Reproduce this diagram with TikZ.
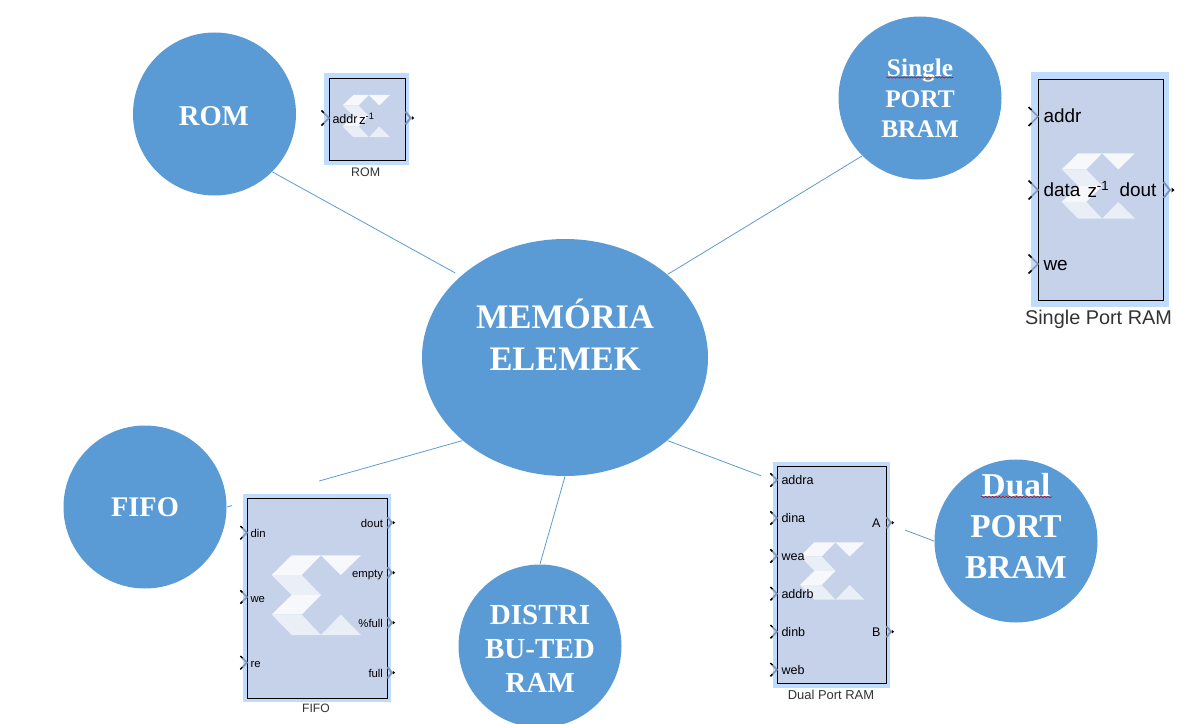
\documentclass[tikz,border=0pt]{standalone}
\usepackage{fontspec}
\setmainfont{Liberation Serif}
\setsansfont{Liberation Sans}
\usetikzlibrary{shapes.geometric,decorations.pathmorphing}

\definecolor{bubbleblue}{HTML}{5B9BD5}
\definecolor{blockfill}{HTML}{C5D2E9}
\definecolor{blockband}{HTML}{BFDBFE}
\definecolor{portgray}{HTML}{8497BA}
\definecolor{logowhite}{HTML}{F6F8FC}
\definecolor{logolight}{HTML}{E9EEF7}

\tikzset{every picture/.style={line width=0.75pt},
  bubble/.style={circle,fill=bubbleblue,minimum size=122.25pt,inner sep=0pt},
  bubbletext/.style={inner sep=0pt,align=center,text=white,font=\bfseries},
  spoke/.style={color=bubbleblue,line width=0.6pt},
  redwave/.style={color=red!80!black,line width=0.4pt,decorate,decoration={snake,amplitude=0.5pt,segment length=2.6pt}},
  blockframe/.style={draw=black,fill=blockfill,line width=0.7pt},
  portlabel/.style={inner sep=0pt,text height=1.5ex,text depth=0pt},
  smalltext/.style={font=\sffamily\fontsize{8.5}{10}\selectfont},
  duallabel/.style={font=\sffamily\fontsize{9.4}{11}\selectfont},
  biglabel/.style={font=\sffamily\fontsize{14.2}{16}\selectfont},
  inport/.pic={
    \draw [color=portgray,line width=1.3pt] (-6.5,-6.5) -- (0,0) -- (-6.5,6.5) ;
    \draw [color=black,line width=1.1pt] (-9.5,-9.5) -- (-6.5,-6.5) (-9.5,9.5) -- (-6.5,6.5) ;
  },
  outport/.pic={
    \draw [color=portgray,line width=1.5pt] (0.5,-8) -- (7,0) -- (0.5,8) ;
    \fill [color=black] (8.5,-2.5) -- (11.5,0) -- (8.5,2.5) -- cycle ;
  },
  xlogo/.pic={
    \begin{scope}[yscale=-1]
    \fill [color=logowhite] (0,19.7) -- (20,0) -- (49.3,0) -- (30,19.7) -- cycle ;
    \fill [color=logolight] (0,19.7) -- (30,19.7) -- (49.3,39.7) -- (20,39.7) -- cycle ;
    \fill [color=logowhite] (20,39.7) -- (49.3,39.7) -- (30,59.3) -- (0,59.3) -- cycle ;
    \fill [color=logolight] (0,59.3) -- (30,59.3) -- (49.3,79.7) -- (20,79.7) -- cycle ;
    \fill [color=logowhite] (49.3,0) -- (89.3,0) -- (69,19.7) -- cycle ;
    \fill [color=logolight] (49.3,79.7) -- (69,59.3) -- (89.3,79.7) -- cycle ;
    \end{scope}
  }
}

\begin{document}
\begin{tikzpicture}[x=0.75pt,y=0.75pt,yscale=-1,xscale=1]
\useasboundingbox (0,0) rectangle (1189,724);

%Shape: Ellipse
\node [ellipse,fill=bubbleblue,minimum width=214.5pt,minimum height=177.75pt,inner sep=0pt] (memoria) at (565,357.5) {};
%Shape: Circle
\node [bubble] (rom) at (214.5,114) {};
\node [bubble] (single) at (920,98) {};
\node [bubble] (fifo) at (145,507) {};
\node [bubble] (distri) at (540,646) {};
\node [bubble] (dual) at (1016,541) {};

%Straight Lines
\draw [spoke,shorten >=4.5pt] (rom.-45) -- (memoria.142.5) ;
\draw [spoke] (single.225) -- (memoria.39.3) ;
\draw [spoke] (fifo.east) -- (memoria.219.6) ;
\draw [spoke] (memoria.south) -- (distri.north) ;
\draw [spoke] (memoria.-39.6) -- (dual.west) ;

%Shape: Rectangle, white margin of the pasted blocks
\fill [color=white] (232,470) rectangle (319,724) (319,486) rectangle (400,724) ;
\fill [color=white] (761,450) rectangle (905,724) ;

%Shape: Rectangle, ROM block
\fill [color=blockband] (324,73) rectangle (409,165) ;
\draw [blockframe] (329,78) rectangle (405,160) ;
\pic [scale=0.53] at (342.7,95) {xlogo} ;
\pic [scale=0.8] at (329,118) {inport} ;
\pic [scale=0.8] at (405,118) {outport} ;

%Shape: Rectangle, Single Port RAM block
\fill [color=blockband] (1031,72) rectangle (1169,307) ;
\draw [blockframe] (1038,79) rectangle (1163,300) ;
\pic [scale=0.82] at (1061.7,153.3) {xlogo} ;
\pic at (1038,116.5) {inport} ;
\pic at (1038,190) {inport} ;
\pic at (1038,264) {inport} ;
\pic at (1163,190) {outport} ;

%Shape: Rectangle, FIFO block
\fill [color=blockband] (243,494) rectangle (391,702) ;
\draw [blockframe] (247,498) rectangle (387,698) ;
\pic at (271.7,555.3) {xlogo} ;
\pic [scale=0.7] at (247,532.7) {inport} ;
\pic [scale=0.7] at (247,597) {inport} ;
\pic [scale=0.7] at (247,662.7) {inport} ;
\pic [scale=0.7] at (387,522.7) {outport} ;
\pic [scale=0.7] at (387,572.7) {outport} ;
\pic [scale=0.7] at (387,622.7) {outport} ;
\pic [scale=0.7] at (387,672.7) {outport} ;

%Shape: Rectangle, Dual Port RAM block
\fill [color=blockband] (773,462) rectangle (890,688) ;
\draw [blockframe] (777,466) rectangle (886,683) ;
\pic [scale=0.72] at (800,542.3) {xlogo} ;
\pic [scale=0.7] at (777,480) {inport} ;
\pic [scale=0.7] at (777,518) {inport} ;
\pic [scale=0.7] at (777,556) {inport} ;
\pic [scale=0.7] at (777,593.7) {inport} ;
\pic [scale=0.7] at (777,631.7) {inport} ;
\pic [scale=0.7] at (777,669.7) {inport} ;
\pic [scale=0.7] at (886,522.7) {outport} ;
\pic [scale=0.7] at (886,631.7) {outport} ;

% Text Node
\node [bubbletext,font=\bfseries\fontsize{25.8}{31.5}\selectfont] (memoriatext) at (565,335) {MEMÓRIA\\ELEMEK};
% Text Node
\node [bubbletext,font=\bfseries\fontsize{21.5}{26}\selectfont] (romtext) at (214,116) {ROM};
% Text Node
\node [bubbletext,font=\bfseries\fontsize{19}{23}\selectfont] (singletext) at (920,98.5) {Single\\PORT\\BRAM};
% Text Node
\node [bubbletext,font=\bfseries\fontsize{21.3}{26}\selectfont] (fifotext) at (145,507.5) {FIFO};
% Text Node
\node [bubbletext,font=\bfseries\fontsize{21.8}{25.5}\selectfont] (distritext) at (540,648.5) {DISTRI\\BU-TED\\RAM};
% Text Node
\node [bubbletext,font=\bfseries\fontsize{25}{31}\selectfont] (dualtext) at (1016,526) {Dual\\PORT\\BRAM};

%Curve Lines, spelling marks
\draw [redwave] (886,77.5) -- (953,77.5) ;
\draw [redwave] (981,497) -- (1052,497) ;

% Text Node, ROM
\node [portlabel,anchor=west,font=\sffamily\fontsize{9.4}{11}\selectfont] (romaddr) at (332,119) {addr};
\node [portlabel,anchor=west,font=\sffamily\fontsize{10}{11}\selectfont] (romz) at (358.5,120) {z\textsuperscript{-1}};
\node [inner sep=0pt,font=\sffamily\fontsize{9.3}{11}\selectfont,text=black!80] (romname) at (365.7,172) {ROM};

% Text Node, Single Port RAM
\node [portlabel,biglabel,anchor=west] (singleaddr) at (1043,117.5) {addr};
\node [portlabel,biglabel,anchor=west] (singledata) at (1043,191.5) {data};
\node [portlabel,biglabel,anchor=west] (singlewe) at (1043,265.5) {we};
\node [portlabel,biglabel,anchor=east] (singledout) at (1157,191.5) {dout};
\node [portlabel,biglabel,anchor=west] (singlez) at (1087,193) {z\textsuperscript{-1}};
\node [inner sep=0pt,font=\sffamily\fontsize{14.9}{17}\selectfont,text=black!80] (singlename) at (1098.5,319.5) {Single Port RAM};

% Text Node, FIFO
\node [portlabel,smalltext,anchor=west] (fifodin) at (250,533) {din};
\node [portlabel,smalltext,anchor=west] (fifowe) at (250,598) {we};
\node [portlabel,smalltext,anchor=west] (fifore) at (250,663) {re};
\node [portlabel,smalltext,anchor=east] (fifodout) at (383.5,523) {dout};
\node [portlabel,smalltext,anchor=east] (fifoempty) at (383.5,573) {empty};
\node [portlabel,smalltext,anchor=east] (fifopfull) at (383.5,623) {\%full};
\node [portlabel,smalltext,anchor=east] (fifofull) at (383.5,673) {full};
\node [inner sep=0pt,font=\sffamily\fontsize{9.1}{11}\selectfont,text=black!80] (fifoname) at (316,708) {FIFO};

% Text Node, Dual Port RAM
\node [portlabel,duallabel,anchor=west] (dualaddra) at (781,480) {addra};
\node [portlabel,duallabel,anchor=west] (dualdina) at (781,518) {dina};
\node [portlabel,duallabel,anchor=west] (dualwea) at (781,556) {wea};
\node [portlabel,duallabel,anchor=west] (dualaddrb) at (781,594) {addrb};
\node [portlabel,duallabel,anchor=west] (dualdinb) at (781,632) {dinb};
\node [portlabel,duallabel,anchor=west] (dualweb) at (781,670) {web};
\node [portlabel,duallabel,anchor=east] (dualporta) at (881,523) {A};
\node [portlabel,duallabel,anchor=east] (dualportb) at (881,632) {B};
\node [inner sep=0pt,font=\sffamily\fontsize{9.7}{11}\selectfont,text=black!80] (dualname) at (831,695) {Dual Port RAM};

\end{tikzpicture}
\end{document}
